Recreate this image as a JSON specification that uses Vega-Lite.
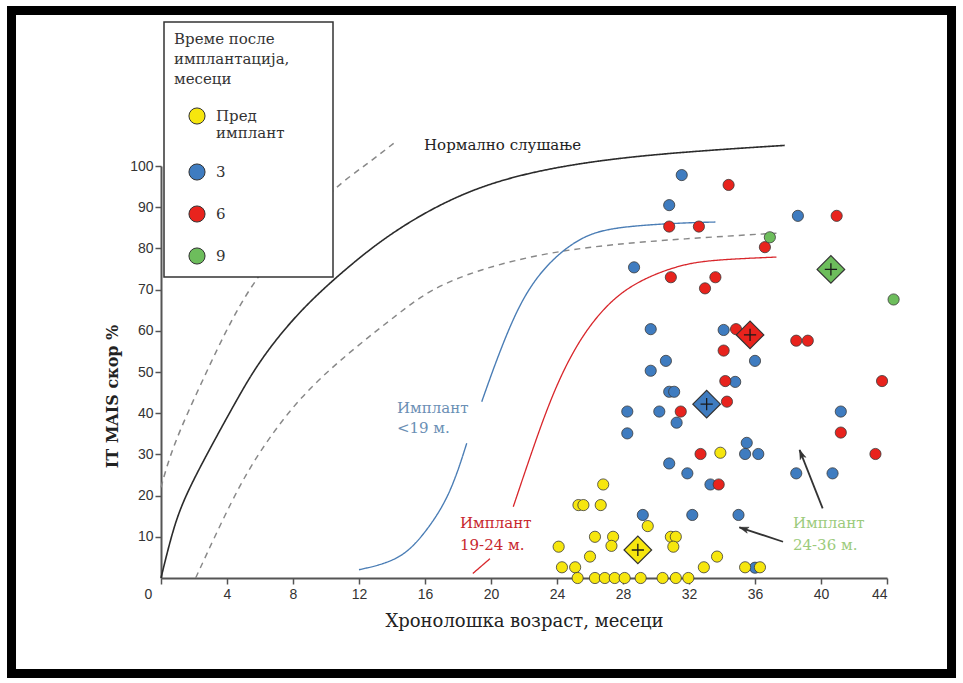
{
  "$schema": "https://vega.github.io/schema/vega-lite/v6.json",
  "width": 726,
  "height": 412,
  "autosize": {"type": "none"},
  "padding": {"left": 161, "top": 166, "right": 76, "bottom": 105},
  "background": "white",
  "config": {
    "view": {"stroke": null},
    "font": "DejaVu Serif",
    "legend": {
      "orient": "none",
      "legendX": 3,
      "legendY": -144,
      "fillColor": "white",
      "strokeColor": "#333",
      "strokeWidth": 1.5,
      "padding": 10,
      "titleFont": "DejaVu Serif",
      "titleFontSize": 15,
      "titleFontWeight": "normal",
      "titleColor": "#333",
      "titleLineHeight": 20,
      "titlePadding": 20,
      "labelFont": "DejaVu Serif",
      "labelFontSize": 15,
      "labelColor": "#333",
      "labelOffset": 10,
      "symbolType": "circle",
      "symbolSize": 260,
      "symbolStrokeColor": "#333",
      "symbolStrokeWidth": 1,
      "symbolOffset": 14,
      "rowPadding": 20
    }
  },
  "datasets": {
    "points": [
      {"age": 31.56, "score": 97.8, "group": "3"},
      {"age": 30.8, "score": 90.5, "group": "3"},
      {"age": 28.67, "score": 75.4, "group": "3"},
      {"age": 38.6, "score": 87.9, "group": "3"},
      {"age": 29.68, "score": 60.4, "group": "3"},
      {"age": 30.6, "score": 52.7, "group": "3"},
      {"age": 29.68, "score": 50.3, "group": "3"},
      {"age": 30.8, "score": 45.2, "group": "3"},
      {"age": 31.1, "score": 45.2, "group": "3"},
      {"age": 28.26, "score": 40.4, "group": "3"},
      {"age": 30.2, "score": 40.4, "group": "3"},
      {"age": 31.25, "score": 37.7, "group": "3"},
      {"age": 28.26, "score": 35.1, "group": "3"},
      {"age": 34.1, "score": 60.2, "group": "3"},
      {"age": 34.8, "score": 47.6, "group": "3"},
      {"age": 36.0, "score": 52.7, "group": "3"},
      {"age": 41.2, "score": 40.4, "group": "3"},
      {"age": 35.5, "score": 32.8, "group": "3"},
      {"age": 35.4, "score": 30.1, "group": "3"},
      {"age": 36.2, "score": 30.1, "group": "3"},
      {"age": 38.5, "score": 25.4, "group": "3"},
      {"age": 40.7, "score": 25.4, "group": "3"},
      {"age": 33.3, "score": 22.7, "group": "3"},
      {"age": 35.0, "score": 15.3, "group": "3"},
      {"age": 32.2, "score": 15.3, "group": "3"},
      {"age": 29.2, "score": 15.3, "group": "3"},
      {"age": 30.8, "score": 27.8, "group": "3"},
      {"age": 31.9, "score": 25.4, "group": "3"},
      {"age": 36.0, "score": 2.5, "group": "3"},
      {"age": 34.4, "score": 95.4, "group": "6"},
      {"age": 30.8, "score": 85.3, "group": "6"},
      {"age": 32.6, "score": 85.3, "group": "6"},
      {"age": 40.95, "score": 87.9, "group": "6"},
      {"age": 36.6, "score": 80.3, "group": "6"},
      {"age": 30.9, "score": 73.0, "group": "6"},
      {"age": 33.6, "score": 73.0, "group": "6"},
      {"age": 32.97, "score": 70.3, "group": "6"},
      {"age": 34.85, "score": 60.4, "group": "6"},
      {"age": 38.5, "score": 57.6, "group": "6"},
      {"age": 39.2, "score": 57.6, "group": "6"},
      {"age": 34.1, "score": 55.2, "group": "6"},
      {"age": 34.2, "score": 47.8, "group": "6"},
      {"age": 43.7, "score": 47.8, "group": "6"},
      {"age": 34.3, "score": 42.8, "group": "6"},
      {"age": 31.5, "score": 40.4, "group": "6"},
      {"age": 41.2, "score": 35.3, "group": "6"},
      {"age": 32.7, "score": 30.1, "group": "6"},
      {"age": 43.3, "score": 30.1, "group": "6"},
      {"age": 33.8, "score": 22.7, "group": "6"},
      {"age": 36.9, "score": 82.7, "group": "9"},
      {"age": 44.4, "score": 67.6, "group": "9"},
      {"age": 26.8, "score": 22.7, "group": "Пред имплант"},
      {"age": 25.3, "score": 17.7, "group": "Пред имплант"},
      {"age": 25.6, "score": 17.7, "group": "Пред имплант"},
      {"age": 26.65, "score": 17.7, "group": "Пред имплант"},
      {"age": 29.5, "score": 12.6, "group": "Пред имплант"},
      {"age": 26.3, "score": 10.0, "group": "Пред имплант"},
      {"age": 27.4, "score": 10.0, "group": "Пред имплант"},
      {"age": 30.9, "score": 10.0, "group": "Пред имплант"},
      {"age": 31.2, "score": 10.0, "group": "Пред имплант"},
      {"age": 24.1, "score": 7.6, "group": "Пред имплант"},
      {"age": 27.3, "score": 7.8, "group": "Пред имплант"},
      {"age": 31.05, "score": 7.6, "group": "Пред имплант"},
      {"age": 26.0, "score": 5.2, "group": "Пред имплант"},
      {"age": 24.3, "score": 2.6, "group": "Пред имплант"},
      {"age": 25.1, "score": 2.6, "group": "Пред имплант"},
      {"age": 25.25, "score": 0, "group": "Пред имплант"},
      {"age": 26.3, "score": 0, "group": "Пред имплант"},
      {"age": 26.9, "score": 0, "group": "Пред имплант"},
      {"age": 27.5, "score": 0, "group": "Пред имплант"},
      {"age": 28.1, "score": 0, "group": "Пред имплант"},
      {"age": 29.07, "score": 0, "group": "Пред имплант"},
      {"age": 30.4, "score": 0, "group": "Пред имплант"},
      {"age": 31.2, "score": 0, "group": "Пред имплант"},
      {"age": 31.96, "score": 0, "group": "Пред имплант"},
      {"age": 33.9, "score": 30.4, "group": "Пред имплант"},
      {"age": 33.7, "score": 5.2, "group": "Пред имплант"},
      {"age": 32.9, "score": 2.6, "group": "Пред имплант"},
      {"age": 35.4, "score": 2.6, "group": "Пред имплант"},
      {"age": 36.3, "score": 2.6, "group": "Пред имплант"}
    ],
    "means": [
      {"age": 28.9, "score": 6.8, "group": "Пред имплант"},
      {"age": 33.07, "score": 42.2, "group": "3"},
      {"age": 35.7, "score": 59.0, "group": "6"},
      {"age": 40.6, "score": 74.9, "group": "9"}
    ],
    "curves": [
      {"curve": "норма", "part": "a", "age": 0, "score": 0},
      {"curve": "норма", "part": "a", "age": 0.67, "score": 11},
      {"curve": "норма", "part": "a", "age": 1.35, "score": 19},
      {"curve": "норма", "part": "a", "age": 2.77, "score": 30},
      {"curve": "норма", "part": "a", "age": 4.58, "score": 43.2},
      {"curve": "норма", "part": "a", "age": 6.0, "score": 53},
      {"curve": "норма", "part": "a", "age": 8.4, "score": 65},
      {"curve": "норма", "part": "a", "age": 11.45, "score": 76},
      {"curve": "норма", "part": "a", "age": 14.5, "score": 85.5},
      {"curve": "норма", "part": "a", "age": 19.3, "score": 95.8},
      {"curve": "норма", "part": "a", "age": 25.4, "score": 101},
      {"curve": "норма", "part": "a", "age": 31.5, "score": 103.4},
      {"curve": "норма", "part": "a", "age": 37.8, "score": 105},
      {"curve": "горња граница", "part": "a", "age": 0, "score": 22},
      {"curve": "горња граница", "part": "a", "age": 0.7, "score": 32},
      {"curve": "горња граница", "part": "a", "age": 2.4, "score": 47},
      {"curve": "горња граница", "part": "a", "age": 4.4, "score": 64},
      {"curve": "горња граница", "part": "a", "age": 6.0, "score": 74},
      {"curve": "горња граница", "part": "a", "age": 8.0, "score": 84},
      {"curve": "горња граница", "part": "a", "age": 10.4, "score": 94.5},
      {"curve": "горња граница", "part": "a", "age": 12.5, "score": 100.5},
      {"curve": "горња граница", "part": "a", "age": 14.1, "score": 105.5},
      {"curve": "доња граница", "part": "a", "age": 2.1, "score": 0},
      {"curve": "доња граница", "part": "a", "age": 4.37, "score": 19.7},
      {"curve": "доња граница", "part": "a", "age": 6.0, "score": 31},
      {"curve": "доња граница", "part": "a", "age": 8.4, "score": 44},
      {"curve": "доња граница", "part": "a", "age": 11.45, "score": 55},
      {"curve": "доња граница", "part": "a", "age": 14.5, "score": 64.5},
      {"curve": "доња граница", "part": "a", "age": 16.3, "score": 70},
      {"curve": "доња граница", "part": "a", "age": 19.3, "score": 75},
      {"curve": "доња граница", "part": "a", "age": 23.4, "score": 79},
      {"curve": "доња граница", "part": "a", "age": 27.4, "score": 81},
      {"curve": "доња граница", "part": "a", "age": 31.5, "score": 82.3},
      {"curve": "доња граница", "part": "a", "age": 37.3, "score": 83.7},
      {"curve": "<19", "part": "a", "age": 12.0, "score": 2},
      {"curve": "<19", "part": "a", "age": 14.5, "score": 4.3},
      {"curve": "<19", "part": "a", "age": 16.0, "score": 10.8},
      {"curve": "<19", "part": "a", "age": 17.5, "score": 19.8},
      {"curve": "<19", "part": "a", "age": 18.53, "score": 32.7},
      {"curve": "<19", "part": "b", "age": 19.44, "score": 42.8},
      {"curve": "<19", "part": "b", "age": 20.4, "score": 53.7},
      {"curve": "<19", "part": "b", "age": 21.8, "score": 67.5},
      {"curve": "<19", "part": "b", "age": 23.4, "score": 76.4},
      {"curve": "<19", "part": "b", "age": 25.4, "score": 82.8},
      {"curve": "<19", "part": "b", "age": 27.4, "score": 85.2},
      {"curve": "<19", "part": "b", "age": 31.5, "score": 86.2},
      {"curve": "<19", "part": "b", "age": 33.6, "score": 86.4},
      {"curve": "19-24", "part": "a", "age": 18.9, "score": 1.1},
      {"curve": "19-24", "part": "a", "age": 19.94, "score": 4.7},
      {"curve": "19-24", "part": "b", "age": 21.35, "score": 17.3},
      {"curve": "19-24", "part": "b", "age": 22.5, "score": 31},
      {"curve": "19-24", "part": "b", "age": 23.8, "score": 45.6},
      {"curve": "19-24", "part": "b", "age": 25.4, "score": 58.5},
      {"curve": "19-24", "part": "b", "age": 27.4, "score": 68.2},
      {"curve": "19-24", "part": "b", "age": 29.4, "score": 73},
      {"curve": "19-24", "part": "b", "age": 31.5, "score": 76},
      {"curve": "19-24", "part": "b", "age": 33.3, "score": 77.2},
      {"curve": "19-24", "part": "b", "age": 37.3, "score": 77.9}
    ],
    "arrows": [
      {"id": "a1", "age": 37.7, "score": 8.8, "age2": 35.05, "score2": 12.3},
      {"id": "a2", "age": 40.1, "score": 16.9, "age2": 38.7, "score2": 31.1}
    ],
    "frame": [
      {"x1": -9.06, "x2": 47.91, "y1": -23.18, "y2": 137.74}
    ]
  },
  "layer": [
    {
      "data": {"name": "frame"},
      "mark": {"type": "rect", "fill": null, "stroke": "black", "strokeWidth": 9},
      "encoding": {
        "x": {"field": "x1", "type": "quantitative", "scale": {"domain": [0, 44], "nice": false, "zero": false}},
        "x2": {"field": "x2"},
        "y": {"field": "y1", "type": "quantitative", "scale": {"domain": [0, 100], "nice": false}},
        "y2": {"field": "y2"}
      }
    },
    {
      "data": {"name": "curves"},
      "mark": {"type": "line", "interpolate": "basis"},
      "encoding": {
        "x": {
          "field": "age", "type": "quantitative",
          "axis": {
            "values": [0, 4, 8, 12, 16, 20, 24, 28, 32, 36, 40, 44],
            "grid": false,
            "labelFont": "Liberation Sans", "labelFontSize": 14, "labelColor": "#333",
            "labelPadding": 3,
            "labelOffset": {"condition": {"test": "datum.value === 0", "value": -17}, "value": 0},
            "domainColor": "#555", "domainWidth": 2,
            "tickColor": "#555", "tickWidth": 1.5, "tickSize": 6,
            "title": "Хронолошка возраст, месеци",
            "titleFont": "DejaVu Serif", "titleFontSize": 18, "titleFontWeight": "normal",
            "titleColor": "#222", "titlePadding": 11
          }
        },
        "y": {
          "field": "score", "type": "quantitative",
          "axis": {
            "values": [10, 20, 30, 40, 50, 60, 70, 80, 90, 100],
            "grid": false,
            "labelFont": "Liberation Sans", "labelFontSize": 14, "labelColor": "#333",
            "labelPadding": 2,
            "domainColor": "#555", "domainWidth": 2,
            "tickColor": "#555", "tickWidth": 1.5, "tickSize": 6,
            "title": "IT MAIS скор %",
            "titleFont": "DejaVu Serif", "titleFontSize": 16, "titleFontWeight": "bold",
            "titleColor": "#222",
            "titleX": -49, "titleY": 230, "titleAngle": 270,
            "titleAlign": "center", "titleBaseline": "middle"
          }
        },
        "detail": {"field": "part"},
        "stroke": {
          "field": "curve", "type": "nominal", "legend": null,
          "scale": {"domain": ["норма", "горња граница", "доња граница", "<19", "19-24"],
                    "range": ["#2b2b2b", "#888888", "#888888", "#4a7db5", "#d8262b"]}
        },
        "strokeDash": {
          "field": "curve", "type": "nominal", "legend": null,
          "scale": {"domain": ["норма", "горња граница", "доња граница", "<19", "19-24"],
                    "range": [[1, 0], [6, 5], [6, 5], [1, 0], [1, 0]]}
        },
        "strokeWidth": {
          "field": "curve", "type": "nominal", "legend": null,
          "scale": {"domain": ["норма", "горња граница", "доња граница", "<19", "19-24"],
                    "range": [1.6, 1.3, 1.3, 2, 1.8]}
        }
      }
    },
    {
      "data": {"name": "arrows"},
      "mark": {"type": "rule", "color": "#333", "strokeWidth": 1.8},
      "encoding": {
        "x": {"field": "age", "type": "quantitative"},
        "y": {"field": "score", "type": "quantitative"},
        "x2": {"field": "age2"},
        "y2": {"field": "score2"}
      }
    },
    {
      "data": {"name": "arrows"},
      "transform": [{"filter": "datum.id === 'a1'"}],
      "mark": {"type": "point", "shape": "M0,0L-0.8,2.4L0,1.8L0.8,2.4Z", "size": 60, "filled": true, "fill": "#333", "stroke": "#333", "strokeWidth": 0.5, "opacity": 1, "angle": 288},
      "encoding": {
        "x": {"field": "age2", "type": "quantitative"},
        "y": {"field": "score2", "type": "quantitative"}
      }
    },
    {
      "data": {"name": "arrows"},
      "transform": [{"filter": "datum.id === 'a2'"}],
      "mark": {"type": "point", "shape": "M0,0L-0.8,2.4L0,1.8L0.8,2.4Z", "size": 60, "filled": true, "fill": "#333", "stroke": "#333", "strokeWidth": 0.5, "opacity": 1, "angle": 338},
      "encoding": {
        "x": {"field": "age2", "type": "quantitative"},
        "y": {"field": "score2", "type": "quantitative"}
      }
    },
    {
      "data": {"name": "points"},
      "mark": {"type": "circle", "size": 125, "opacity": 1, "stroke": "#3a3a3a", "strokeWidth": 0.8},
      "encoding": {
        "x": {"field": "age", "type": "quantitative"},
        "y": {"field": "score", "type": "quantitative"},
        "color": {
          "field": "group", "type": "nominal",
          "scale": {"domain": ["Пред имплант", "3", "6", "9"],
                    "range": ["#f6e60e", "#3f7cc0", "#e8231d", "#6dbd5c"]},
          "legend": {
            "title": ["Време после", "имплантација,\u2800\u2800\u2800", "месеци"],
            "labelExpr": "datum.label === 'Пред имплант' ? ['Пред', 'имплант'] : datum.label"
          }
        }
      }
    },
    {
      "data": {"name": "means"},
      "mark": {"type": "point", "shape": "diamond", "size": 760, "filled": true, "opacity": 1, "stroke": "#333", "strokeWidth": 1.2},
      "encoding": {
        "x": {"field": "age", "type": "quantitative"},
        "y": {"field": "score", "type": "quantitative"},
        "color": {"field": "group", "type": "nominal"}
      }
    },
    {
      "data": {"name": "means"},
      "mark": {"type": "point", "shape": "M-1,0L1,0M0,-1L0,1", "size": 150, "filled": false, "opacity": 1, "stroke": "#1a1a1a", "strokeWidth": 1.3},
      "encoding": {
        "x": {"field": "age", "type": "quantitative"},
        "y": {"field": "score", "type": "quantitative"}
      }
    },
    {
      "data": {"values": [{"label": "Нормално слушање", "age": 20.7, "score": 105.1}]},
      "mark": {"type": "text", "font": "DejaVu Serif", "fontSize": 15, "color": "#222", "align": "center", "baseline": "middle"},
      "encoding": {
        "x": {"field": "age", "type": "quantitative"},
        "y": {"field": "score", "type": "quantitative"},
        "text": {"field": "label"}
      }
    },
    {
      "data": {"values": [{"label": "Имплант\n<19 м.", "age": 14.3, "score": 41.3}]},
      "mark": {"type": "text", "font": "DejaVu Serif", "fontSize": 15, "lineHeight": 20, "lineBreak": "\n", "color": "#6b8fb5", "align": "left", "baseline": "middle"},
      "encoding": {
        "x": {"field": "age", "type": "quantitative"},
        "y": {"field": "score", "type": "quantitative"},
        "text": {"field": "label"}
      }
    },
    {
      "data": {"values": [{"label": "Имплант\n19-24 м.", "age": 18.12, "score": 13.35}]},
      "mark": {"type": "text", "font": "DejaVu Serif", "fontSize": 15, "lineHeight": 22, "lineBreak": "\n", "color": "#c8282e", "align": "left", "baseline": "middle"},
      "encoding": {
        "x": {"field": "age", "type": "quantitative"},
        "y": {"field": "score", "type": "quantitative"},
        "text": {"field": "label"}
      }
    },
    {
      "data": {"values": [{"label": "Имплант\n24-36 м.", "age": 38.3, "score": 13.4}]},
      "mark": {"type": "text", "font": "DejaVu Serif", "fontSize": 15, "lineHeight": 22, "lineBreak": "\n", "color": "#9ccb7c", "align": "left", "baseline": "middle"},
      "encoding": {
        "x": {"field": "age", "type": "quantitative"},
        "y": {"field": "score", "type": "quantitative"},
        "text": {"field": "label"}
      }
    }
  ]
}
